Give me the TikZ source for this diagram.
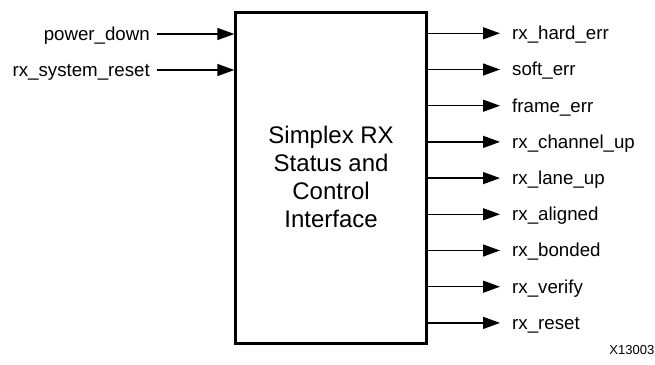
\documentclass[tikz,border=0pt]{standalone}
\usepackage{fontspec}
\setmainfont{Liberation Sans}
\usetikzlibrary{arrows.meta}
\begin{document}
\begin{tikzpicture}[x=1pt,y=-1pt,
  sig/.style={line width=1.3pt,-{Triangle[length=17pt,width=12pt]}},
  lbl/.style={inner sep=0pt,font=\fontsize{18.7}{22}\selectfont},
  blkbox/.style={draw,line width=2.7pt,minimum width=190.8pt,minimum height=331pt,inner sep=0pt,
    font=\fontsize{24}{28}\selectfont,align=center}]
\useasboundingbox (0,0) rectangle (655,364);
\node[blkbox] (blk) at (331.1,178) {};
\node[inner sep=0pt,align=center,font=\fontsize{24}{28}\selectfont] (title) at (331.1,177)
  {Simplex RX\\Status and\\Control\\Interface};
% inputs
\foreach \n/\t/\y in {pd/power\_down/34, srst/rx\_system\_reset/70}{
  \node[lbl,anchor=base east] (l\n) at (150,\y+6.3) {\t};
  \coordinate (s\n) at (157,\y);
  \draw[sig] (s\n) -- (s\n -| blk.west);
}
% outputs
\foreach \n/\t/\y in {a/rx\_hard\_err/33.3, b/soft\_err/69.5, c/frame\_err/105.7,
  d/rx\_channel\_up/141.9, e/rx\_lane\_up/178.1, f/rx\_aligned/214.3,
  g/rx\_bonded/250.5, h/rx\_verify/286.7, i/rx\_reset/322.9}{
  \coordinate (o\n) at (500,\y);
  \draw[sig] (blk.east |- o\n) -- (o\n);
  \node[lbl,anchor=base west] (r\n) at (512,\y+6.3) {\t};
}
\node[inner sep=0pt,anchor=base east,font=\fontsize{13}{15}\selectfont] (fig) at (654.5,354) {X13003};
\end{tikzpicture}
\end{document}
